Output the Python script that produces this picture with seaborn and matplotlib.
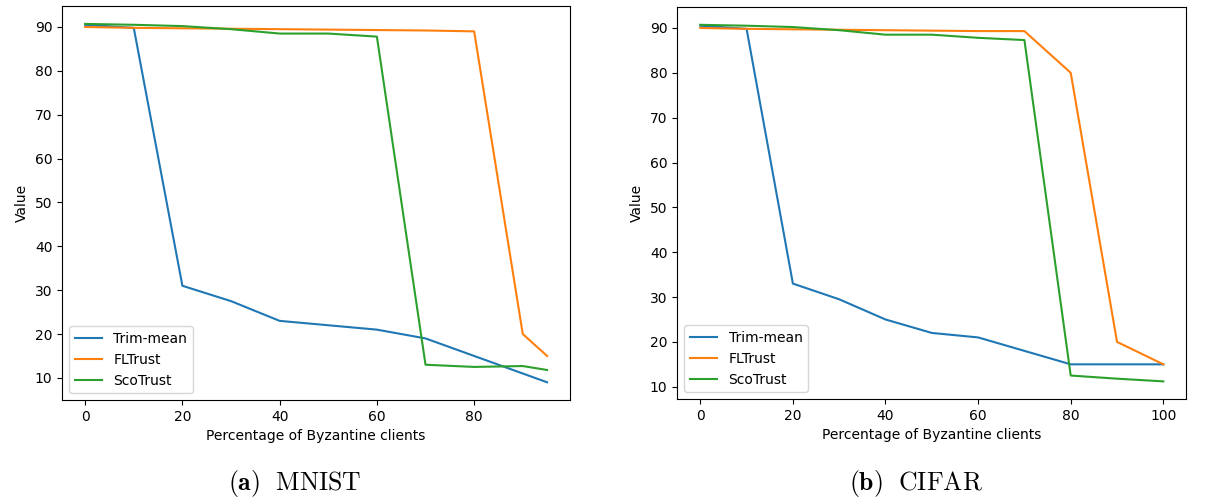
import numpy as np
import pandas as pd
import matplotlib
matplotlib.use("Agg")
import matplotlib.pyplot as plt
import seaborn as sns

plt.rcParams['mathtext.fontset'] = 'cm'

# MNIST
mnist_x = [0, 10, 20, 30, 40, 50, 60, 70, 80, 90, 95]
mnist_trim = [90.5, 89.8, 31.0, 27.5, 23.0, 22.0, 21.0, 19.0, 15.0, 11.0, 9.0]
mnist_fltrust = [90.0, 89.8, 89.7, 89.6, 89.5, 89.4, 89.3, 89.2, 89.0, 20.0, 15.0]
mnist_scotrust = [90.7, 90.5, 90.2, 89.5, 88.5, 88.5, 87.8, 13.0, 12.5, 12.7, 11.8]

# CIFAR
cifar_x = [0, 10, 20, 30, 40, 50, 60, 70, 80, 90, 100]
cifar_trim = [90.5, 89.8, 33.0, 29.5, 25.0, 22.0, 21.0, 18.0, 15.0, 15.0, 15.0]
cifar_fltrust = [90.0, 89.8, 89.7, 89.6, 89.5, 89.4, 89.3, 89.3, 80.0, 20.0, 15.0]
cifar_scotrust = [90.7, 90.5, 90.2, 89.5, 88.5, 88.5, 87.8, 87.3, 12.5, 11.8, 11.2]

methods = ['Trim-mean', 'FLTrust', 'ScoTrust']
palette = ['#1f77b4', '#ff7f0e', '#2ca02c']
captions = [r'$\mathbf{(a)}\ \ \mathrm{MNIST}$', r'$\mathbf{(b)}\ \ \mathrm{CIFAR}$']
caption_x = [0.2444, 0.759]


def to_long(x, series):
    frames = []
    for name, vals in zip(methods, series):
        frames.append(pd.DataFrame({'x': x, 'Value': vals, 'Method': name}))
    return pd.concat(frames, ignore_index=True)


datasets = [
    to_long(mnist_x, [mnist_trim, mnist_fltrust, mnist_scotrust]),
    to_long(cifar_x, [cifar_trim, cifar_fltrust, cifar_scotrust]),
]

fig = plt.figure(figsize=(12.07, 4.99), dpi=100)
boxes = [[0.0514, 0.198, 0.421, 0.790], [0.561, 0.200, 0.422, 0.786]]

for box, df, cap, cx in zip(boxes, datasets, captions, caption_x):
    ax = fig.add_axes(box)
    sns.lineplot(data=df, x='x', y='Value', hue='Method', palette=palette,
                 linewidth=1.5, ax=ax)
    ax.set_xlabel('Percentage of Byzantine clients')
    ax.set_ylabel('Value')
    ax.set_yticks(np.arange(10, 91, 10))
    ax.legend(loc='lower left')
    fig.text(cx, 0.018, cap, ha='center', va='baseline', fontsize=18.5)

fig.savefig('out.png', dpi=100)
